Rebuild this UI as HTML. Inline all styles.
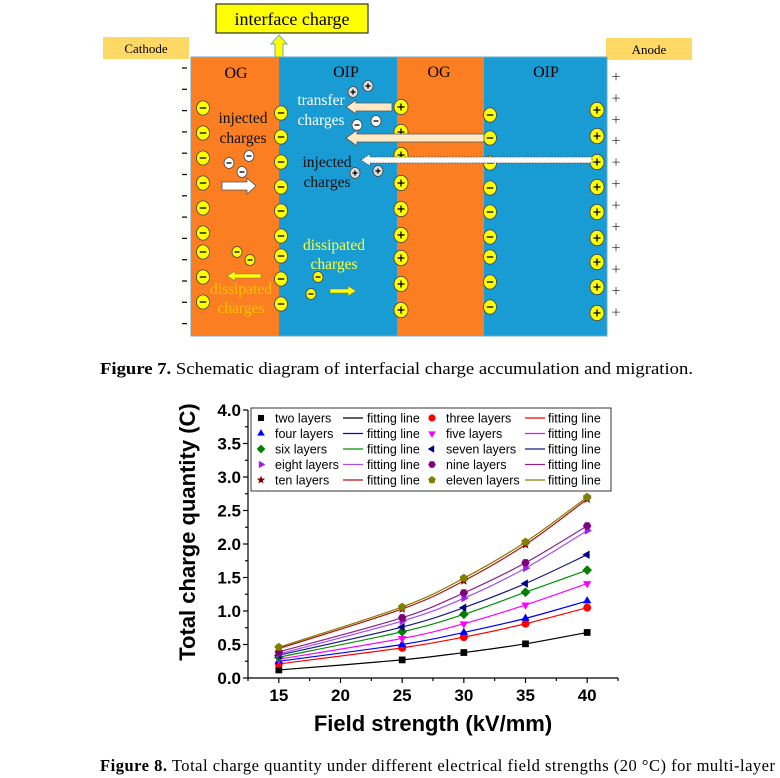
<!DOCTYPE html>
<html><head><meta charset="utf-8"><style>
html,body{margin:0;padding:0;background:#fff;}
svg{display:block;}
.serif{font-family:"Liberation Serif",serif;}
.sans{font-family:"Liberation Sans",sans-serif;}
</style></head><body>
<svg id="root" width="780" height="778" viewBox="0 0 780 778">
<g id="diagram" class="serif">
  <rect x="103" y="37" width="86" height="22" fill="#ffd966"/>
  <text x="146" y="53" font-size="13" text-anchor="middle">Cathode</text>
  <rect x="606" y="38" width="86" height="22" fill="#ffd966"/>
  <text x="649" y="54" font-size="13" text-anchor="middle">Anode</text>
  <rect x="216" y="4" width="152" height="29" fill="#ffff00" stroke="#333" stroke-width="1.2"/>
  <text x="292" y="25" font-size="18" text-anchor="middle">interface charge</text>
  <polygon points="279,35 287,44 283,44 283,57 275,57 275,44 271,44" fill="#ffff00" stroke="#7aa" stroke-width="1"/>
  <rect x="191" y="57" width="88" height="279" fill="#fb7f22"/>
  <rect x="279" y="57" width="118" height="279" fill="#199bd4"/>
  <rect x="397" y="57" width="87" height="279" fill="#fb7f22"/>
  <rect x="484" y="57" width="123" height="279" fill="#199bd4"/>
  <rect x="191" y="57" width="416" height="279" fill="none" stroke="#6fa8c8" stroke-width="1"/>
  <text x="236" y="78" font-size="16" text-anchor="middle">OG</text>
  <text x="346" y="77" font-size="16" text-anchor="middle">OIP</text>
  <text x="439" y="77" font-size="16" text-anchor="middle">OG</text>
  <text x="546" y="77" font-size="16" text-anchor="middle">OIP</text>
  <g id="charges"></g>
  <polygon points="346,107 356,100 356,103 392,103 392,111 356,111 356,114" fill="#fde9c4" stroke="#555" stroke-width="0.8"/>
  <polygon points="346,138 357,130 357,134 484,134 484,142 357,142 357,146" fill="#fde9c4" stroke="#555" stroke-width="0.8"/>
  <polygon points="361,160 370,154 370,157 592,157 592,163 370,163 370,166" fill="#fff" stroke="#555" stroke-width="0.8" stroke-dasharray="2,1"/>
  <polygon points="222,182 247,182 247,178 256,186 247,194 247,190 222,190" fill="#fff" stroke="#555" stroke-width="0.8"/>
  <polygon points="227,276 235,271 235,274 261,274 261,278 235,278 235,281" fill="#ffff00" stroke="#777" stroke-width="0.6"/>
  <polygon points="330,289 348,289 348,286 356,291 348,296 348,293 330,293" fill="#ffff00" stroke="#777" stroke-width="0.6"/>
  <text font-size="15.5" fill="#111" text-anchor="middle"><tspan x="243" y="123">injected</tspan><tspan x="243" y="143">charges</tspan></text>
  <text font-size="15.5" fill="#fff" text-anchor="middle"><tspan x="321" y="105">transfer</tspan><tspan x="321" y="125">charges</tspan></text>
  <text font-size="15.5" fill="#111" text-anchor="middle"><tspan x="327" y="167">injected</tspan><tspan x="327" y="187">charges</tspan></text>
  <text font-size="15.5" fill="#ffff33" text-anchor="middle"><tspan x="334" y="250">dissipated</tspan><tspan x="334" y="269">charges</tspan></text>
  <text font-size="15.5" fill="#ffc000" text-anchor="middle"><tspan x="241" y="294">dissipated</tspan><tspan x="241" y="313">charges</tspan></text>
</g>
<text x="100" y="374" font-size="17" class="serif" textLength="593" lengthAdjust="spacingAndGlyphs"><tspan font-weight="bold">Figure 7.</tspan> Schematic diagram of interfacial charge accumulation and migration.</text>

<g id="chart" class="sans"></g>
<text x="100" y="771" font-size="16.5" class="serif" textLength="675" lengthAdjust="spacing"><tspan font-weight="bold">Figure 8.</tspan>  Total charge quantity under different electrical field strengths (20 °C) for multi-layer</text>
</svg>
<script>
const NS='http://www.w3.org/2000/svg';
function mk(tag,attrs,parent){const e=document.createElementNS(NS,tag);for(const k in attrs)e.setAttribute(k,attrs[k]);parent.appendChild(e);return e;}
const cg=document.getElementById('charges');
function charge(x,y,sign,fill,r){
  const g=mk('g',{},cg);
  
  
  mk('ellipse',{cx:x,cy:y,rx:r,ry:r*1.1,fill:fill,stroke:'#444','stroke-width':0.8},g);
  mk('line',{x1:x-r*0.5,y1:y,x2:x+r*0.5,y2:y,stroke:'#000','stroke-width':1.3},g);
  if(sign==='+')mk('line',{x1:x,y1:y-r*0.5,x2:x,y2:y+r*0.5,stroke:'#000','stroke-width':1.3},g);
}
[108,133,158,183,208,233,252,277,302].forEach(y=>charge(203,y,'-','#ffff00',6.5));
[113,137,162,187,211,236,256,279,304].forEach(y=>charge(281,y,'-','#ffff00',6.5));
[107,132,155,183,209,235,258,284,310].forEach(y=>charge(401,y,'+','#ffff00',7));
[115,138,163,188,212,237,257,282,307].forEach(y=>charge(490,y,'-','#ffff00',6.5));
[110,136,162,187,212,238,262,287,313].forEach(y=>charge(597,y,'+','#ffff00',7));
[[229,163],[249,156],[242,172],[357,125],[376,121]].forEach(p=>charge(p[0],p[1],'-','#fff',5));
[[353,92],[368,86],[355,173],[378,171]].forEach(p=>charge(p[0],p[1],'+','#ddd',5));
[[237,252],[250,260],[318,277],[311,294]].forEach(p=>charge(p[0],p[1],'-','#ffff00',5));
const dg=document.getElementById('diagram');
for(let i=0;i<13;i++){const t=mk('line',{x1:182,y1:68+i*21.3,x2:187,y2:68+i*21.3,stroke:'#111','stroke-width':1.3},dg);
}
for(let i=0;i<12;i++){const t=mk('text',{x:616,y:82+i*21.4,'font-size':16,'text-anchor':'middle',fill:'#333'},dg);t.textContent='+';
}

// ---- chart data ----
const xValues=[15,25,30,35,40];
const seriesNames=['two layers','three layers','four layers','five layers','six layers','seven layers','eight layers','nine layers','ten layers','eleven layers'];
const twoLayers=[0.12,0.27,0.38,0.51,0.68];
const threeLayers=[0.21,0.45,0.61,0.81,1.05];
const fourLayers=[0.25,0.50,0.68,0.89,1.15];
const fiveLayers=[0.28,0.59,0.81,1.09,1.41];
const sixLayers=[0.31,0.69,0.95,1.28,1.61];
const sevenLayers=[0.34,0.76,1.05,1.41,1.84];
const eightLayers=[0.36,0.85,1.19,1.64,2.20];
const nineLayers=[0.39,0.90,1.27,1.72,2.27];
const tenLayers=[0.44,1.03,1.45,1.99,2.67];
const elevenLayers=[0.46,1.06,1.49,2.03,2.70];
const xTicks=[15,20,25,30,35,40];
const yTicks=[0,0.5,1.0,1.5,2.0,2.5,3.0,3.5,4.0];
const allSeries=[twoLayers,threeLayers,fourLayers,fiveLayers,sixLayers,sevenLayers,eightLayers,nineLayers,tenLayers,elevenLayers];
const markerColors=['#000','#ff0000','#0000ff','#ff00ff','#008000','#000080','#a020f0','#800080','#800000','#808000'];
const lineColors=['#000','#ff0000','#0000ff','#ff00ff','#009000','#1a1a80','#a050f0','#902090','#b01010','#808000'];
const markerShapes=['square','circle','tri-up','tri-down','diamond','tri-left','tri-right','hexagon','star','pentagon'];

const X0=248,X1=618,Y0=678,Y1=410;
const xs=v=>X0+(v-12.5)/30*(X1-X0);
const ys=v=>Y0-(v-0)/4*(Y0-Y1);
const ch=document.getElementById('chart');

function marker(shape,x,y,c,s,parent){
  let e;
  if(shape==='square')e=mk('rect',{x:x-s*0.8,y:y-s*0.8,width:s*1.6,height:s*1.6,fill:c},parent);
  else if(shape==='circle')e=mk('circle',{cx:x,cy:y,r:s*0.95,fill:c},parent);
  else {
    let pts=[];
    const poly=(n,rot,r)=>{for(let i=0;i<n;i++){const a=rot+i*2*Math.PI/n;pts.push([x+r*Math.cos(a),y+r*Math.sin(a)]);}};
    if(shape==='tri-up')poly(3,-Math.PI/2,s*1.15);
    else if(shape==='tri-down')poly(3,Math.PI/2,s*1.15);
    else if(shape==='tri-left')poly(3,Math.PI,s*1.15);
    else if(shape==='tri-right')poly(3,0,s*1.15);
    else if(shape==='diamond')poly(4,-Math.PI/2,s*1.15);
    else if(shape==='hexagon')poly(6,0,s);
    else if(shape==='pentagon')poly(5,-Math.PI/2,s*1.05);
    else if(shape==='star'){for(let i=0;i<10;i++){const a=-Math.PI/2+i*Math.PI/5;const r=i%2?s*0.5:s*1.15;pts.push([x+r*Math.cos(a),y+r*Math.sin(a)]);}}
    e=mk('polygon',{points:pts.map(p=>p.join(',')).join(' '),fill:c},parent);
  }
  return e;
}
function smoothPath(px,py){
  let d='M'+px[0]+','+py[0];
  for(let i=0;i<px.length-1;i++){
    const p0=i>0?i-1:i, p3=i+2<px.length?i+2:i+1;
    const t=1/6;
    const c1x=px[i]+(px[i+1]-px[p0])*t, c1y=py[i]+(py[i+1]-py[p0])*t;
    const c2x=px[i+1]-(px[p3]-px[i])*t, c2y=py[i+1]-(py[p3]-py[i])*t;
    d+=' C'+c1x+','+c1y+' '+c2x+','+c2y+' '+px[i+1]+','+py[i+1];
  }
  return d;
}
const ax=mk('g',{stroke:'#000','stroke-width':1.2},ch);

mk('line',{x1:X0,y1:Y0,x2:X1,y2:Y0},ax);
mk('line',{x1:X0,y1:Y0,x2:X0,y2:Y1},ax);
for(let v=12.5;v<=42.5;v+=2.5){const major=(v%5===0);mk('line',{x1:xs(v),y1:Y0,x2:xs(v),y2:Y0+(major?5:3)},ax);}
for(let v=0;v<=4.001;v+=0.25){const major=Math.abs(v*2-Math.round(v*2))<1e-6;mk('line',{x1:X0,y1:ys(v),x2:X0-(major?5:3),y2:ys(v)},ax);}
xTicks.forEach(v=>{const t=mk('text',{x:xs(v),y:Y0+23,'font-size':17,'font-weight':'bold','text-anchor':'middle'},ch);t.textContent=v;
});
yTicks.forEach(v=>{const t=mk('text',{x:X0-7,y:ys(v)+6,'font-size':17,'font-weight':'bold','text-anchor':'end'},ch);t.textContent=v.toFixed(1);
});
const xt=mk('text',{x:433,y:731,'font-size':22,'font-weight':'bold','text-anchor':'middle'},ch);xt.textContent='Field strength (kV/mm)';

const yt=mk('text',{x:0,y:0,'font-size':22,'font-weight':'bold','text-anchor':'middle',transform:'translate(195,532) rotate(-90)'},ch);yt.textContent='Total charge quantity (C)';

allSeries.forEach((vals,k)=>{
  const g=mk('g',{},ch);
  
  
  const p=mk('path',{d:smoothPath(xValues.map(xs),vals.map(ys)),fill:'none',stroke:lineColors[k],'stroke-width':1.2},g);
  
  
  vals.forEach((v,i)=>{const m=marker(markerShapes[k],xs(xValues[i]),ys(v),markerColors[k],4.2,g);
    
    });
});
const lg=mk('g',{},ch);


mk('rect',{x:251,y:408,width:360,height:83,fill:'#fff',stroke:'#333','stroke-width':1},lg);
allSeries.forEach((vals,k)=>{
  const row=Math.floor(k/2), col=k%2;
  const y=418+row*15.5;
  const mx=col?432:261, tx=col?446:275, lx=col?525:343, ftx=col?548:367;
  const ent=mk('g',{},lg);
  
  
  marker(markerShapes[k],mx,y,markerColors[k],3.8,ent);
  const t=mk('text',{x:tx,y:y+4.5,'font-size':12.5},ent);t.textContent=seriesNames[k];
  mk('line',{x1:lx,y1:y,x2:lx+20,y2:y,stroke:lineColors[k],'stroke-width':1.3},ent);
  const f=mk('text',{x:ftx,y:y+4.5,'font-size':12.5},ent);f.textContent='fitting line';
});
</script>
</body></html>
